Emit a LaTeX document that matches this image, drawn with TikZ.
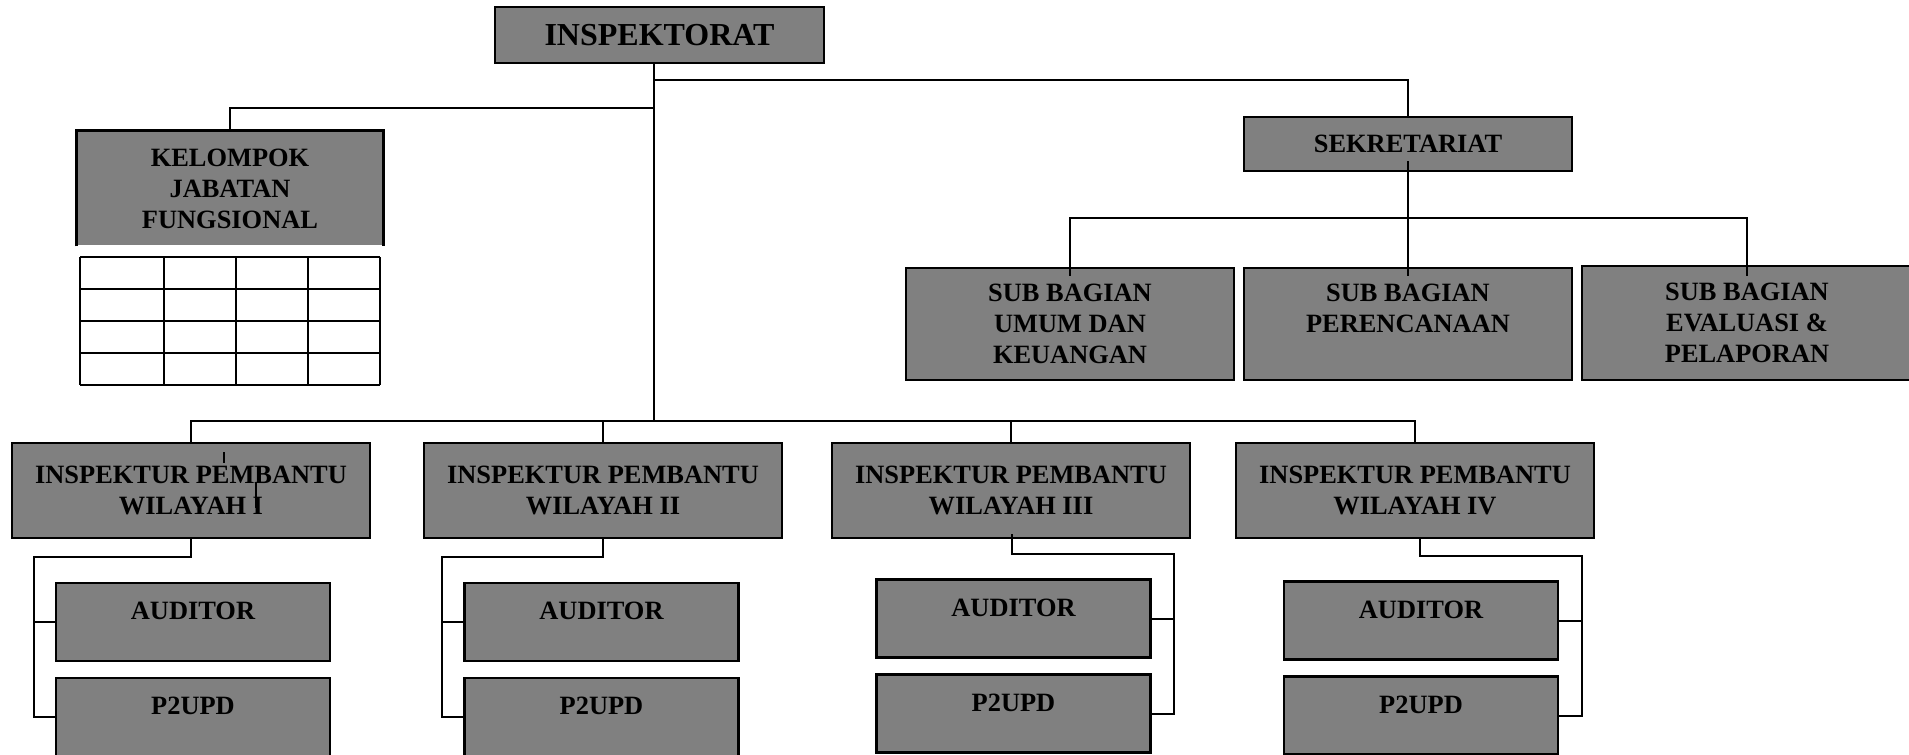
\documentclass[tikz,border=0pt]{standalone}
\usepackage{fontspec}
\setmainfont{Liberation Serif}
\usetikzlibrary{calc}
\definecolor{boxgray}{HTML}{808080}
\tikzset{
	unit/.style={draw=black, line width=1.3pt, fill=boxgray, inner sep=0pt, align=center,
		font=\bfseries\fontsize{13.2}{15.5}\selectfont},
	topbox/.style={unit, minimum width=164.5pt, minimum height=28pt,
		font=\bfseries\fontsize{16}{19}\selectfont},
	sekbox/.style={unit, minimum width=164pt, minimum height=27pt},
	subbox/.style={unit, minimum width=164pt, minimum height=56pt},
	irbox/.style={unit, minimum width=179pt, minimum height=47.5pt},
	staffbox/.style={unit, minimum width=137pt, minimum height=39pt, text height=8.7pt, text depth=11pt},
	link/.style={line width=1pt},
}

\begin{document}
\begin{tikzpicture}[x=0.5pt, y=-0.5pt]
		%%%%% START %%%%%
		\useasboundingbox (0,0) rectangle (1909,754);
		
		\node[topbox] (insp) at (659.5,35) {INSPEKTORAT};
		
		% kelompok jabatan fungsional (no bottom edge) and its table
		\node[unit, draw=none, minimum width=152pt, minimum height=56.5pt] (kjf) at (230,188.5) {KELOMPOK\\JABATAN\\FUNGSIONAL};
		\draw[line width=1.3pt] (kjf.south west) -- (kjf.north west) -- (kjf.north east) -- (kjf.south east);
		\foreach \y in {257,289,321,353,385}
			\draw[line width=1.2pt] (80,\y) -- (380,\y);
		\foreach \x in {80,164,236,308,380}
			\draw[line width=1.2pt] (\x,257) -- (\x,385);
		
		% sekretariat
		\node[sekbox] (sek) at (1408,144) {SEKRETARIAT};
		\node[subbox] (sb1) at (1070,324) {SUB BAGIAN\\UMUM DAN\\KEUANGAN};
		\node[subbox] (sb2) at (1408,324) {SUB BAGIAN\\PERENCANAAN\\~};
		\node[subbox, minimum width=165pt, minimum height=57pt] (sb3) at (1747,323) {SUB BAGIAN\\EVALUASI \&\\PELAPORAN};
		
		% inspektur pembantu
		\node[irbox] (ip1) at (191,490.5) {INSPEKTUR PEMBANTU\\WILAYAH I};
		\node[irbox] (ip2) at (603,490.5) {INSPEKTUR PEMBANTU\\WILAYAH II};
		\node[irbox] (ip3) at (1011,490.5) {INSPEKTUR PEMBANTU\\WILAYAH III};
		\node[irbox] (ip4) at (1415,490.5) {INSPEKTUR PEMBANTU\\WILAYAH IV};
		
		\node[staffbox] (a1) at (193,622) {AUDITOR};
		\node[staffbox] (p1) at (193,717) {P2UPD};
		\node[staffbox] (a2) at (601.5,622) {AUDITOR};
		\node[staffbox] (p2) at (601.5,717) {P2UPD};
		\node[staffbox] (a3) at (1013.5,618.5) {AUDITOR};
		\node[staffbox] (p3) at (1013.5,713.5) {P2UPD};
		\node[staffbox] (a4) at (1421,620.5) {AUDITOR};
		\node[staffbox] (p4) at (1421,715.5) {P2UPD};
		
		% stray marks in wilayah I
		\draw[line width=0.6pt] (224,452) -- (224,463);
		\draw[line width=0.6pt] (256,483) -- (256,508);
		
		% connectors
		\coordinate (hub) at (654,421);
		\coordinate (kj) at (654,108);
		\coordinate (sk) at (654,80);
		\draw[link] (insp.south -| hub) -- (hub);
		\draw[link] (kjf.north) |- (kj);
		\draw[link] (sk) -| (sek.north);
		
		\coordinate (sbus) at (1408,218);
		\draw[link] ($(sek.south)+(0,-11)$) -- ($(sb2.north)+(0,9)$);
		\draw[link] ($(sb1.north)+(0,9)$) |- (sbus) -| ($(sb3.north)+(0,11)$);
		
		\draw[link] (ip1.north) |- (hub) -| (ip4.north);
		\draw[link] (ip2.north) -- (ip2.north |- hub);
		\draw[link] (ip3.north) -- (ip3.north |- hub);
		
		\coordinate (r1) at (34,557);
		\draw[link] (ip1.south) |- (r1) |- (p1.west);
		\draw[link] (r1 |- a1.west) -- (a1.west);
		
		\coordinate (r2) at (442,557);
		\draw[link] (ip2.south) |- (r2) |- (p2.west);
		\draw[link] (r2 |- a2.west) -- (a2.west);
		
		\coordinate (r3) at (1174,554);
		\draw[link] ($(ip3.south)+(1,-5)$) |- (r3) |- (p3.east);
		\draw[link] (r3 |- a3.east) -- (a3.east);
		
		\coordinate (r4) at (1582,556);
		\draw[link] ($(ip4.south)+(5,-2)$) |- (r4) |- (p4.east);
		\draw[link] (r4 |- a4.east) -- (a4.east);
		%%%%% END %%%%%
\end{tikzpicture}
\end{document}
